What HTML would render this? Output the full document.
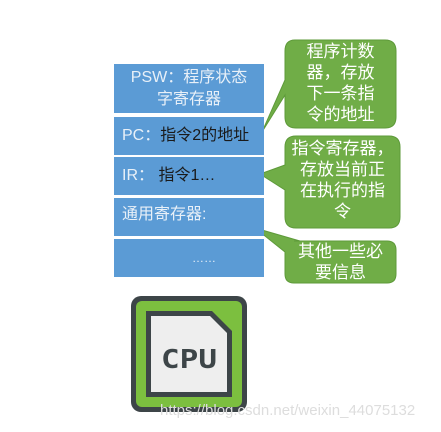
<!DOCTYPE html>
<html><head><meta charset="utf-8"><style>
body{margin:0;width:441px;height:432px;background:#fff;position:relative;overflow:hidden;font-family:"Liberation Sans","Noto Sans CJK SC",sans-serif}
.b{position:absolute;left:114px;width:150px;background:#5b9bd5;color:#e8f0f8;font-size:16px;box-sizing:border-box;padding-left:8px;white-space:nowrap}
.g{position:absolute;color:#fff;font-size:17px;line-height:21px;text-align:center;white-space:nowrap}
</style></head><body>
<svg width="441" height="432" style="position:absolute;left:0;top:0">
<path d="M295,40 H385 Q396,40 396,51 V117 Q396,128 385,128 H296 Q285,128 285,117 V95 L262,132 L285,80 V51 Q285,40 295,40Z" fill="#70ad47" stroke="#5e9a3a"/>
<path d="M296,136 H389 Q400,136 400,147 V217 Q400,228 389,228 H296 Q285,228 285,217 V190 L260,174 L285,165 V147 Q285,136 296,136Z" fill="#70ad47" stroke="#5e9a3a"/>
<path d="M294,241 H387 Q396,241 396,250 V274 Q396,283 387,283 H294 Q285,283 285,274 V252 L255,228 L300,241Z" fill="#70ad47" stroke="#5e9a3a"/>
<rect x="131" y="296" width="116" height="116" rx="10" fill="#3d4548"/>
<rect x="136" y="301" width="106" height="106" rx="6" fill="#7cbf3f"/>
<path d="M146,311 H212 L232,331 V397 H146Z" fill="#3d4548"/>
<path d="M151,316 H210 L227,333 V392 H151Z" fill="#eeeeee"/>
<text x="189" y="368" font-family="DejaVu Sans Mono,monospace" font-weight="bold" font-size="26" fill="#3d4548" text-anchor="middle" textLength="56" lengthAdjust="spacingAndGlyphs">CPU</text>
</svg>
<div class="b" style="top:64px;height:49px;padding:3px 0 0;text-align:center;line-height:22px">PSW：程序状态<br>字寄存器</div>
<div class="b" style="top:117px;height:38px;line-height:38px">PC：<span style="color:#1a1a1a">指令2的地址</span></div>
<div class="b" style="top:157px;height:38px;line-height:38px">IR： <span style="color:#1a1a1a">指令1…</span></div>
<div class="b" style="top:198px;height:38px;line-height:34px">通用寄存器:</div>
<div class="b" style="top:239px;height:38px;line-height:38px;text-align:center;padding:0 0 0 30px;font-size:12px">……</div>
<div class="g" style="left:285px;top:41px;width:111px">程序计数<br>器，存放<br>下一条指<br>令的地址</div>
<div class="g" style="left:285px;top:138px;width:115px">指令寄存器，<br>存放当前正<br>在执行的指<br>令</div>
<div class="g" style="left:285px;top:241px;width:111px">其他一些必<br>要信息</div>
<div style="position:absolute;left:160px;top:402px;font-size:15px;color:#ddd">https://blog.csdn.net/weixin_44075132</div>
</body></html>
